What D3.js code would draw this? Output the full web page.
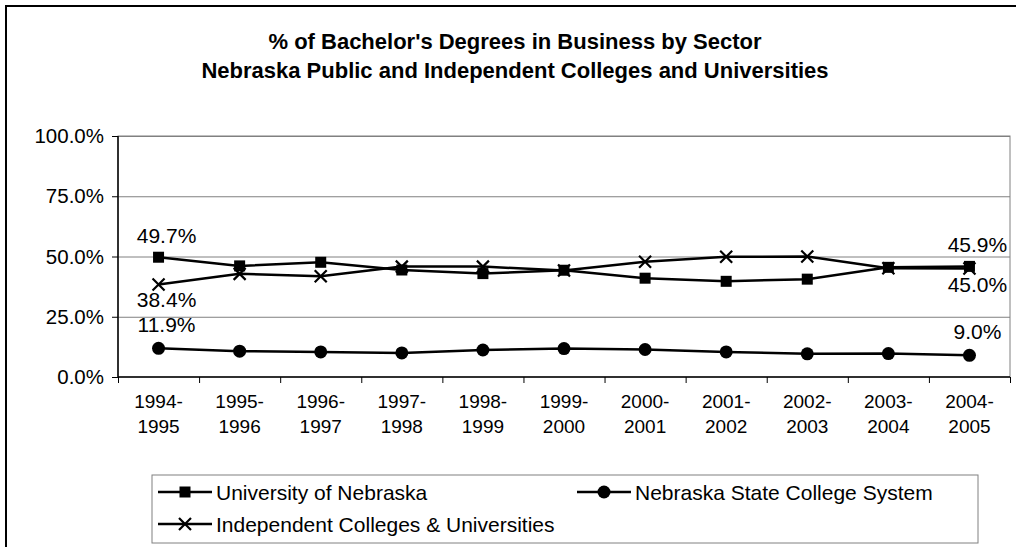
<!DOCTYPE html>
<html>
<head>
<meta charset="utf-8">
<script src="https://cdn.jsdelivr.net/npm/d3@7"></script>
<style>
  body { margin: 0; background: #fff; }
  svg { display: block; font-family: "Liberation Sans", Arial, sans-serif; }
</style>
</head>
<body>
<svg id="chart"></svg>
<script>
const years = ["1994-1995", "1995-1996", "1996-1997", "1997-1998", "1998-1999", "1999-2000",
  "2000-2001", "2001-2002", "2002-2003", "2003-2004", "2004-2005"];

const univNebraska = [49.7, 46.1, 47.6, 44.4, 42.9, 44.3, 41.0, 39.7, 40.6, 45.5, 45.9];
const stateColleges = [11.9, 10.7, 10.4, 10.0, 11.2, 11.8, 11.4, 10.4, 9.6, 9.7, 9.0];
const independent = [38.4, 42.8, 41.8, 45.8, 45.8, 44.2, 47.8, 49.9, 50.0, 45.1, 45.0];

const yTicks = [0, 25, 50, 75, 100];

const width = 1016;
const height = 547;

const svg = d3.select("#chart")
  .attr("width", width)
  .attr("height", height);

// outer chart frame (runs off the right and bottom edge)
svg.append("rect")
  .attr("x", 6).attr("y", 6)
  .attr("width", 1040).attr("height", 580)
  .attr("fill", "#fff")
  .attr("stroke", "#000")
  .attr("stroke-width", 2);

svg.append("text")
  .attr("x", 515).attr("y", 49)
  .attr("text-anchor", "middle")
  .style("font-size", "22px").style("font-weight", "bold")
  .text("% of Bachelor's Degrees in Business by Sector");

svg.append("text")
  .attr("x", 515).attr("y", 78)
  .attr("text-anchor", "middle")
  .style("font-size", "22px").style("font-weight", "bold")
  .text("Nebraska Public and Independent Colleges and Universities");

const plot = { left: 118, right: 1010, top: 136, bottom: 377 };

const x = d3.scaleBand()
  .domain(years)
  .range([plot.left, plot.right]);

const y = d3.scaleLinear()
  .domain([0, 100])
  .range([plot.bottom, plot.top]);

// plot area border
svg.append("rect")
  .attr("x", plot.left).attr("y", plot.top)
  .attr("width", plot.right - plot.left)
  .attr("height", plot.bottom - plot.top)
  .attr("fill", "none")
  .attr("stroke", "#808080");

// gridlines
svg.append("g")
  .selectAll("line")
  .data(yTicks.filter(d => d > 0))
  .join("line")
  .attr("x1", plot.left).attr("x2", plot.right)
  .attr("y1", d => y(d) + 0.5).attr("y2", d => y(d) + 0.5)
  .attr("stroke", "#808080");

// y axis
const yAxis = svg.append("g")
  .attr("transform", `translate(${plot.left},0)`)
  .call(d3.axisLeft(y).tickValues(yTicks).tickSize(6).tickPadding(8).tickFormat(d => d3.format(".1f")(d) + "%"));
yAxis.select(".domain").attr("stroke", "#000").attr("stroke-width", 1.5).attr("d", `M0,${plot.top}V${plot.bottom}`);
yAxis.selectAll(".tick line").attr("stroke", "#000");
yAxis.selectAll(".tick text")
  .attr("fill", "#000")
  .style("font-size", "20.5px")
  .style("font-family", "'Liberation Sans', Arial, sans-serif");

// x axis
const xAxis = svg.append("g")
  .attr("transform", `translate(0,${plot.bottom})`);
xAxis.append("line")
  .attr("x1", plot.left).attr("x2", plot.right)
  .attr("stroke", "#000").attr("stroke-width", 1.5);
xAxis.selectAll(".tk")
  .data(years.map(d => x(d)).concat([plot.right]))
  .join("line")
  .attr("class", "tk")
  .attr("x1", d => d + 0.5).attr("x2", d => d + 0.5)
  .attr("y1", 0).attr("y2", 6)
  .attr("stroke", "#000");
const xLabels = xAxis.selectAll(".lbl")
  .data(years)
  .join("text")
  .attr("class", "lbl")
  .attr("text-anchor", "middle")
  .style("font-size", "19px");
xLabels.append("tspan")
  .attr("x", d => x(d) + x.bandwidth() / 2)
  .attr("y", 31)
  .text(d => d.split("-")[0] + "-");
xLabels.append("tspan")
  .attr("x", d => x(d) + x.bandwidth() / 2)
  .attr("y", 56)
  .text(d => d.split("-")[1]);

const series = [
  { name: "University of Nebraska", values: univNebraska, marker: "square", labelDy: -14 },
  { name: "Nebraska State College System", values: stateColleges, marker: "circle", labelDy: -16 },
  { name: "Independent Colleges & Universities", values: independent, marker: "cross", labelDy: 23 }
];

const line = d3.line()
  .x((d, i) => x(years[i]) + x.bandwidth() / 2)
  .y(d => y(d));

function drawMarker(g, type, cx, cy) {
  if (type === "square") {
    g.append("rect")
      .attr("x", cx - 5.5).attr("y", cy - 5.5)
      .attr("width", 11).attr("height", 11)
      .attr("fill", "#000");
  } else if (type === "circle") {
    g.append("circle")
      .attr("cx", cx).attr("cy", cy).attr("r", 6.5)
      .attr("fill", "#000");
  } else {
    g.append("path")
      .attr("d", `M${cx - 6},${cy - 6}L${cx + 6},${cy + 6}M${cx - 6},${cy + 6}L${cx + 6},${cy - 6}`)
      .attr("stroke", "#000").attr("stroke-width", 2.2);
  }
}

series.forEach(s => {
  svg.append("path")
    .datum(s.values)
    .attr("d", line)
    .attr("fill", "none")
    .attr("stroke", "#000")
    .attr("stroke-width", 2.5);
  const g = svg.append("g");
  s.values.forEach((v, i) => drawMarker(g, s.marker, x(years[i]) + x.bandwidth() / 2, y(v)));
  // data labels on the first and last points
  [0, s.values.length - 1].forEach(i => {
    svg.append("text")
      .attr("x", x(years[i]) + x.bandwidth() / 2 + 8)
      .attr("y", y(s.values[i]) + s.labelDy)
      .attr("text-anchor", "middle")
      .style("font-size", "21px")
      .text(d3.format(".1f")(s.values[i]) + "%");
  });
});

// legend
const legend = svg.append("g");
legend.append("rect")
  .attr("x", 152).attr("y", 475)
  .attr("width", 826).attr("height", 68)
  .attr("fill", "#fff")
  .attr("stroke", "#808080");

const legendPos = [
  { x: 158, y: 492 },
  { x: 577, y: 492 },
  { x: 158, y: 524 }
];

series.forEach((s, i) => {
  const p = legendPos[i];
  legend.append("line")
    .attr("x1", p.x).attr("x2", p.x + 54)
    .attr("y1", p.y).attr("y2", p.y)
    .attr("stroke", "#000").attr("stroke-width", 2.5);
  drawMarker(legend, s.marker, p.x + 27, p.y);
  legend.append("text")
    .attr("x", p.x + 58)
    .attr("y", p.y + 7.5)
    .style("font-size", "21px")
    .text(s.name);
});
</script>
</body>
</html>
